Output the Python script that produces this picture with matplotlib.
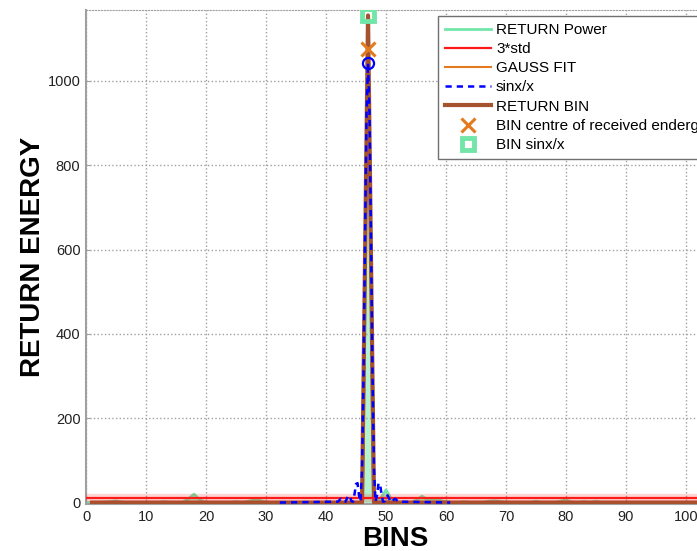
import matplotlib
matplotlib.use("Agg")
import matplotlib.pyplot as plt

plt.rcParams['font.family'] = ['Liberation Sans', 'DejaVu Sans']

# RETURN Power per bin (0..102)
bins = list(range(0, 103))
return_power = [0, 0, 0, 1, 2, 4, 1, 0, 0, 0,
                0, 0, 0, 2, 0, 0, 0, 8, 20, 6,
                0, 0, 0, 0, 0, 2, 0, 3, 6, 5,
                1, 0, 0, 0, 0, 0, 0, 0, 0, 0,
                0, 0, 0, 0, 0, 0, 0, 1155, 0, 8,
                30, 6, 0, 0, 0, 5, 15, 6, 9, 5,
                2, 0, 0, 2, 0, 0, 0, 3, 4, 3,
                0, 0, 0, 0, 0, 3, 0, 0, 0, 3,
                6, 1, 0, 2, 0, 3, 0, 0, 0, 0,
                0, 0, 0, 0, 0, 0, 0, 0, 0, 0,
                0, 0, 0]

std3_level = 11

gauss_x = [1, 46.15, 46.3, 46.5, 46.7, 46.85, 47, 47.15, 47.3, 47.5, 47.7, 47.85, 103]
gauss_y = [0, 0, 150, 430, 750, 950, 1075, 950, 750, 430, 150, 0, 0]

sinc_x = [32.3, 42, 42.25, 42.5, 42.75, 43, 43.25, 43.5, 43.75, 44, 44.25,
          44.5, 44.75, 45, 45.25, 45.5, 45.75, 46, 46.25, 46.5, 46.75,
          47, 47.25, 47.5, 47.75, 48, 48.25, 48.5, 48.75, 49, 49.25,
          49.5, 49.75, 50, 50.25, 50.5, 50.75, 51, 51.25, 51.5, 51.75, 52, 60.7]
sinc_y = [0, 2, 6, 9, 6, 1, 2, 10, 17, 13, 3,
          2, 20, 44, 46, 17, 2, 78, 300, 624, 922,
          1043, 922, 624, 300, 78, 2, 17, 46, 44, 20,
          2, 3, 13, 17, 10, 2, 1, 6, 9, 6, 2, 0]

bin_x = [1, 46, 47, 48, 103]
bin_y = [0, 0, 1155, 0, 0]

centre_bin, centre_val = 47, 1075
sinc_bin, sinc_peak = 47, 1155
sinc_circle = 1043

green = '#72E6A8'
green_fill = '#B4F3D2'
red = '#FF1A1A'
orange = '#E37B1E'
blue = '#0000FF'
brown = '#A5532E'

fig = plt.figure(figsize=(6.97, 5.51), dpi=100)
ax = fig.add_axes([0.1234, 0.0849, 0.8867, 0.897])

ax.fill_between(bins, return_power, 0, color=green_fill, zorder=1, linewidth=0)
ax.plot(bins, return_power, color=green, lw=2, zorder=2, label='RETURN Power')
ax.axhline(std3_level, color=red, lw=6, alpha=0.18, zorder=4)
ax.axhline(std3_level, color=red, lw=1.6, zorder=4, label='3*std')
ax.plot(gauss_x, gauss_y, color=orange, lw=1.5, zorder=3, label='GAUSS FIT')
ax.plot(sinc_x, sinc_y, color=blue, lw=1.8, ls=(0, (2.5, 2)), zorder=5, label='sinx/x')
ax.plot(bin_x, bin_y, color=brown, lw=3, zorder=3.5, label='RETURN BIN')
ax.plot([centre_bin], [centre_val], 'x', color=orange, ms=10, mew=2.2, zorder=6,
        label='BIN centre of received endergy')
ax.plot([sinc_bin], [sinc_peak], 's', mfc='none', mec=green, ms=8, mew=3.5, zorder=6,
        label='BIN sinx/x')
ax.plot([sinc_bin], [sinc_circle], 'o', mfc='none', mec=blue, ms=8, mew=1.6, zorder=6)

ax.set_xlim(0, 103)
ax.set_ylim(-4, 1168)
ax.set_xticks(range(0, 101, 10))
ax.set_yticks(range(0, 1001, 200))
ax.grid(True, ls=':', color='#A0A0A0', lw=1)

for s in ['left', 'bottom']:
    ax.spines[s].set_color('#A0A0A0')
    ax.spines[s].set_linewidth(1.5)
ax.spines['top'].set_linestyle(':')
ax.spines['top'].set_color('#A0A0A0')
ax.spines['right'].set_visible(False)
ax.tick_params(direction='in', length=3, color='#A0A0A0', labelsize=10.5,
               labelcolor='#222222', pad=4)

ax.set_xlabel('BINS', fontsize=20, fontweight='bold')
ax.set_ylabel('RETURN ENERGY', fontsize=20, fontweight='bold')
ax.xaxis.set_label_coords(0.5, -0.045)
ax.yaxis.set_label_coords(-0.065, 0.5)

leg = ax.legend(loc='upper left', bbox_to_anchor=(438 / 697, 1 - 16 / 551),
                bbox_transform=fig.transFigure, borderaxespad=0, fontsize=11,
                fancybox=False, edgecolor='#707070', framealpha=1,
                handlelength=3.0, handletextpad=0.35, labelspacing=0.34,
                borderpad=0.45)
leg.get_frame().set_linewidth(1)

fig.savefig('out.png', dpi=100)
